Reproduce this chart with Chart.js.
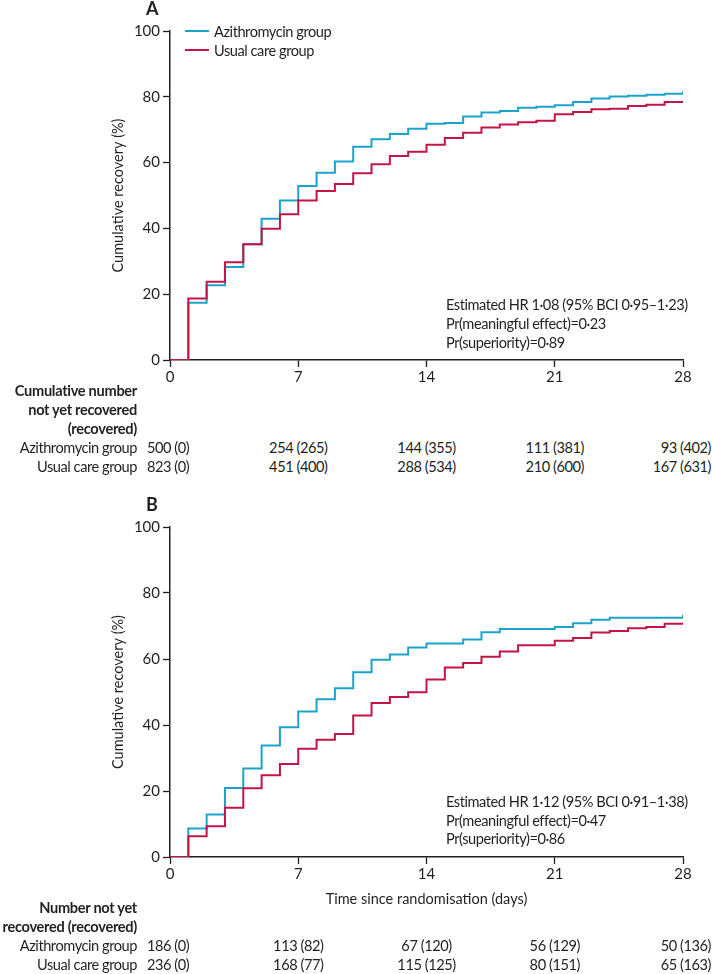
<!DOCTYPE html>
<html>
<head>
<meta charset="utf-8">
<script src="https://cdn.jsdelivr.net/npm/chart.js@4.4.1/dist/chart.umd.min.js"></script>
<style>
    body { margin: 0; width: 712px; height: 974px; position: relative; background: #fff; overflow: hidden;
           font-family: Lato, "Open Sans", sans-serif; color: #231f20; }
    .box { position: absolute; left: 0; width: 712px; }
    .t { position: absolute; white-space: nowrap; font-size: 14.6px; line-height: 19px; letter-spacing: -0.45px;
         transform: translateY(-50%); }
    .b { font-weight: bold; letter-spacing: -0.3px; }
    .c { transform: translate(-50%, -50%); }
    .e { transform: translate(-100%, -50%); }
    .panel { font-weight: bold; font-size: 18px; letter-spacing: 0; }
    .leg { position: absolute; height: 2px; width: 24px; }
</style>
</head>
<body>

<div class="box" style="top:0;height:392px"><canvas id="chartA"></canvas></div>
<div class="box" style="top:497px;height:423px"><canvas id="chartB"></canvas></div>
<div id="labels"></div>

<script>
// Days since randomisation
const days = [0, 1, 2, 3, 4, 5, 6, 7, 8, 9, 10, 11, 12, 13, 14, 15, 16, 17, 18, 19, 20, 21, 22, 23, 24, 25, 26, 27, 28];
const xTicks = [0, 7, 14, 21, 28];
const yTicks = [0, 20, 40, 60, 80, 100];

// Panel A - cumulative recovery (%)
const azithroA = [0, 17.4, 22.7, 28.3, 35.2, 42.9, 48.5, 52.9, 56.9, 60.3, 64.8, 67.1, 68.7, 70.3, 71.8, 72.0,
                  74.0, 75.2, 75.7, 76.7, 77.0, 77.4, 78.4, 79.5, 80.1, 80.3, 80.6, 80.9, 81.7];
const usualA = [0, 18.7, 23.8, 29.7, 35.2, 39.9, 44.3, 48.5, 51.4, 53.5, 56.8, 59.5, 62.0, 63.3, 65.4, 67.5,
                69.1, 70.7, 71.6, 72.3, 72.7, 74.7, 75.4, 76.2, 76.4, 77.2, 77.6, 78.4, 78.4];

// Panel B - cumulative recovery (%)
const azithroB = [0, 8.6, 12.9, 20.9, 26.8, 33.8, 39.3, 44.1, 47.8, 51.1, 56.0, 59.8, 61.4, 63.5, 64.7, 64.7,
                  65.9, 68.1, 69.1, 69.1, 69.1, 69.7, 70.8, 71.9, 72.5, 72.5, 72.5, 72.5, 73.5];
const usualB = [0, 6.3, 9.3, 14.9, 20.8, 24.8, 28.2, 32.8, 35.5, 37.3, 42.9, 46.7, 48.5, 49.9, 53.8, 57.4,
                58.8, 60.7, 62.3, 64.2, 64.2, 65.5, 66.4, 68.0, 68.5, 69.3, 69.7, 70.7, 70.7];

// Numbers at risk
const riskAzithroA = ['500 (0)', '254 (265)', '144 (355)', '111 (381)', '93 (402)'];
const riskUsualA = ['823 (0)', '451 (400)', '288 (534)', '210 (600)', '167 (631)'];
const riskAzithroB = ['186 (0)', '113 (82)', '67 (120)', '56 (129)', '50 (136)'];
const riskUsualB = ['236 (0)', '168 (77)', '115 (125)', '80 (151)', '65 (163)'];

const textsA = ['Estimated HR 1·08 (95% BCI 0·95–1·23)', 'Pr(meaningful effect)=0·23', 'Pr(superiority)=0·89'];
const textsB = ['Estimated HR 1·12 (95% BCI 0·91–1·38)', 'Pr(meaningful effect)=0·47', 'Pr(superiority)=0·86'];

const BLUE = '#1ca3cb';
const RED = '#c41446';
const INK = '#231f20';
const FONT = 'Lato, "Open Sans", sans-serif';

function toPoints(values) {
    return days.map((d, i) => ({ x: d, y: values[i] }));
}

function makeChart(id, azithro, usual, xTitle, xHeight, padTop) {
    return new Chart(document.getElementById(id), {
        type: 'line',
        data: {
            datasets: [
                { label: 'Usual care group', data: toPoints(usual), borderColor: RED, borderWidth: 2,
                  stepped: 'before', pointRadius: 0, fill: false },
                { label: 'Azithromycin group', data: toPoints(azithro), borderColor: BLUE, borderWidth: 2,
                  stepped: 'before', pointRadius: 0, fill: false }
            ]
        },
        options: {
            responsive: true,
            maintainAspectRatio: false,
            animation: false,
            layout: { padding: { left: 110, right: 29, top: padTop, bottom: 0 } },
            plugins: { legend: { display: false }, tooltip: { enabled: false } },
            scales: {
                x: {
                    type: 'linear', min: 0, max: 28,
                    afterBuildTicks: s => { s.ticks = xTicks.map(v => ({ value: v })); },
                    afterFit: s => { s.height = xHeight; },
                    grid: { drawOnChartArea: false, drawTicks: true, tickLength: 7, tickColor: INK, tickWidth: 1.3 },
                    border: { display: true, color: INK, width: 1.5 },
                    ticks: { color: INK, font: { family: FONT, size: 15 }, padding: 1, maxRotation: 0 },
                    title: { display: !!xTitle, text: xTitle, color: INK, font: { family: FONT, size: 14.5 },
                             padding: { top: 0, bottom: 12 } }
                },
                y: {
                    min: 0, max: 100,
                    afterBuildTicks: s => { s.ticks = yTicks.map(v => ({ value: v })); },
                    afterFit: s => { s.width = 60; },
                    grid: { drawOnChartArea: false, drawTicks: true, tickLength: 7, tickColor: INK, tickWidth: 1.3 },
                    border: { display: true, color: INK, width: 1.5 },
                    ticks: { color: INK, font: { family: FONT, size: 15 }, padding: 3 },
                    title: { display: true, text: 'Cumulative recovery (%)', color: INK,
                             font: { family: FONT, size: 14.5 }, padding: { top: 0, bottom: 0 } }
                }
            }
        }
    });
}

makeChart('chartA', azithroA, usualA, '', 32, 31);
makeChart('chartB', azithroB, usualB, 'Time since randomisation (days)', 63, 30);

// Text labels, legend and risk tables
const labels = document.getElementById('labels');
function add(html, x, y, cls) {
    const el = document.createElement('div');
    el.className = 't ' + (cls || '');
    el.style.left = x + 'px';
    el.style.top = y + 'px';
    el.innerHTML = html;
    labels.appendChild(el);
}

add('A', 146, 8, 'panel');
add('B', 146, 504, 'panel');

// legend
[[BLUE, 'Azithromycin group', 31], [RED, 'Usual care group', 50]].forEach(([col, txt, y]) => {
    const ln = document.createElement('div');
    ln.className = 'leg';
    ln.style.cssText += `left:185px;top:${y - 1}px;background:${col}`;
    labels.appendChild(ln);
    add(txt, 214, y);
});

textsA.forEach((s, i) => add(s, 446, 304 + i * 19));
textsB.forEach((s, i) => add(s, 446, 801 + i * 18.5));

const xPos = [170, 298.25, 426.5, 554.75];
function riskRow(vals, y) {
    vals.forEach((v, i) => {
        if (i === 0) add(v, 147, y);
        else if (i === 4) add(v, 711, y, 'e');
        else add(v, xPos[i], y, 'c');
    });
}

add('Cumulative number', 137, 390, 'b e');
add('not yet recovered', 137, 409, 'b e');
add('(recovered)', 137, 428, 'b e');
add('Azithromycin group', 137, 447, 'e');
add('Usual care group', 137, 466, 'e');
riskRow(riskAzithroA, 447);
riskRow(riskUsualA, 466);

add('Number not yet', 137, 907, 'b e');
add('recovered (recovered)', 137, 926, 'b e');
add('Azithromycin group', 137, 945, 'e');
add('Usual care group', 137, 964, 'e');
riskRow(riskAzithroB, 945);
riskRow(riskUsualB, 964);
</script>
</body>
</html>
